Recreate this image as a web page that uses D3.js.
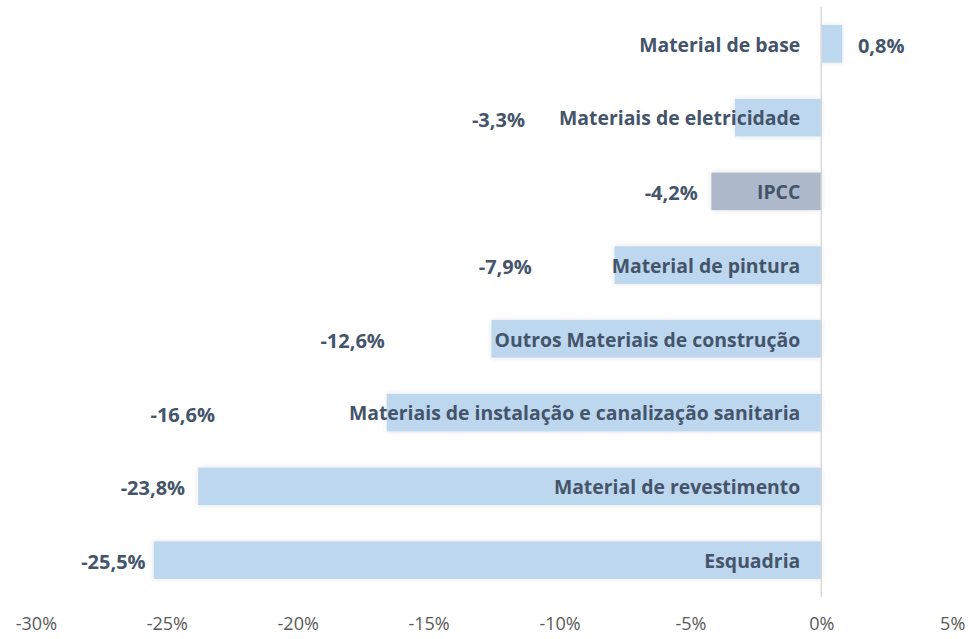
<!DOCTYPE html>
<html>
<head>
<meta charset="utf-8">
<script src="https://cdn.jsdelivr.net/npm/d3@7"></script>
<style>
  body { margin: 0; background: #fff; }
  .cat { font-family: "Open Sans", Lato, sans-serif; font-weight: bold; font-size: 19.4px; fill: #44546A; }
  .val { font-family: "Open Sans", Lato, sans-serif; font-weight: bold; font-size: 20px; fill: #44546A; }
  .x.axis text { font-family: "Open Sans", Lato, sans-serif; font-size: 18px; fill: #595959; }
  .x.axis path, .x.axis line { display: none; }
</style>
</head>
<body>
<script>
//==============================================================================
// DATA
//==============================================================================

const categories = [
  'Material de base',
  'Materiais de eletricidade',
  'IPCC',
  'Material de pintura',
  'Outros Materiais de construção',
  'Materiais de instalação e canalização sanitaria',
  'Material de revestimento',
  'Esquadria'
];
const values = [0.8, -3.3, -4.2, -7.9, -12.6, -16.6, -23.8, -25.5];
const xTicks = [-30, -25, -20, -15, -10, -5, 0, 5];

// where the value labels sit (in % units, as placed in the original)
const labelPos = [1.4, -11.32, -4.72, -11.06, -16.67, -23.16, -24.3, -25.81];

//==============================================================================
// PARAMETERS
//==============================================================================

const width = 979;
const height = 639;

const x = d3.scaleLinear().domain([-30, 5]).range([35.9, 952.2]);
const y = d3.scaleBand().domain(categories).range([7, 597])
  .paddingInner(0.49).paddingOuter(0.245);

const svg = d3.select('body').append('svg')
  .attr('width', width)
  .attr('height', height);

// soft bar shadow
const defs = svg.append('defs');
defs.append('filter')
  .attr('id', 'shadow')
  .attr('x', '-5%').attr('y', '-30%')
  .attr('width', '110%').attr('height', '160%')
  .append('feDropShadow')
  .attr('dx', 0).attr('dy', 0)
  .attr('stdDeviation', 2.5)
  .attr('flood-color', '#000')
  .attr('flood-opacity', 0.12);

//==============================================================================
// DRAW
//==============================================================================

const data = categories.map((c, i) => ({ cat: c, value: values[i], pos: labelPos[i] }));

// bars
svg.selectAll('.bar')
  .data(data)
  .enter()
  .append('rect')
  .attr('class', 'bar')
  .attr('x', d => x(Math.min(0, d.value)))
  .attr('y', d => y(d.cat))
  .attr('width', d => Math.abs(x(d.value) - x(0)))
  .attr('height', y.bandwidth())
  .attr('fill', d => d.cat === 'IPCC' ? '#ADB9CA' : '#BDD7EE')
  .attr('filter', 'url(#shadow)');

// zero line
svg.append('line')
  .attr('x1', x(0)).attr('x2', x(0))
  .attr('y1', 7).attr('y2', 597)
  .attr('stroke', '#D9D9D9')
  .attr('stroke-width', 1.5);

// category labels
svg.selectAll('.cat')
  .data(data)
  .enter()
  .append('text')
  .attr('class', 'cat')
  .attr('x', x(0) - 21)
  .attr('y', d => y(d.cat) + y.bandwidth() / 2 + 1)
  .attr('dy', '0.35em')
  .attr('text-anchor', 'end')
  .text(d => d.cat);

// value labels
svg.selectAll('.val')
  .data(data)
  .enter()
  .append('text')
  .attr('class', 'val')
  .attr('x', d => x(d.pos))
  .attr('y', d => y(d.cat) + y.bandwidth() / 2 + 2)
  .attr('dy', '0.35em')
  .attr('text-anchor', d => d.value >= 0 ? 'start' : 'end')
  .text(d => d.value.toFixed(1).replace('.', ',') + '%');

// x axis
svg.append('g')
  .attr('class', 'x axis')
  .attr('transform', 'translate(0,617)')
  .call(d3.axisBottom(x).tickValues(xTicks).tickSize(0).tickPadding(0)
    .tickFormat(d => d + '%'));
</script>
</body>
</html>
